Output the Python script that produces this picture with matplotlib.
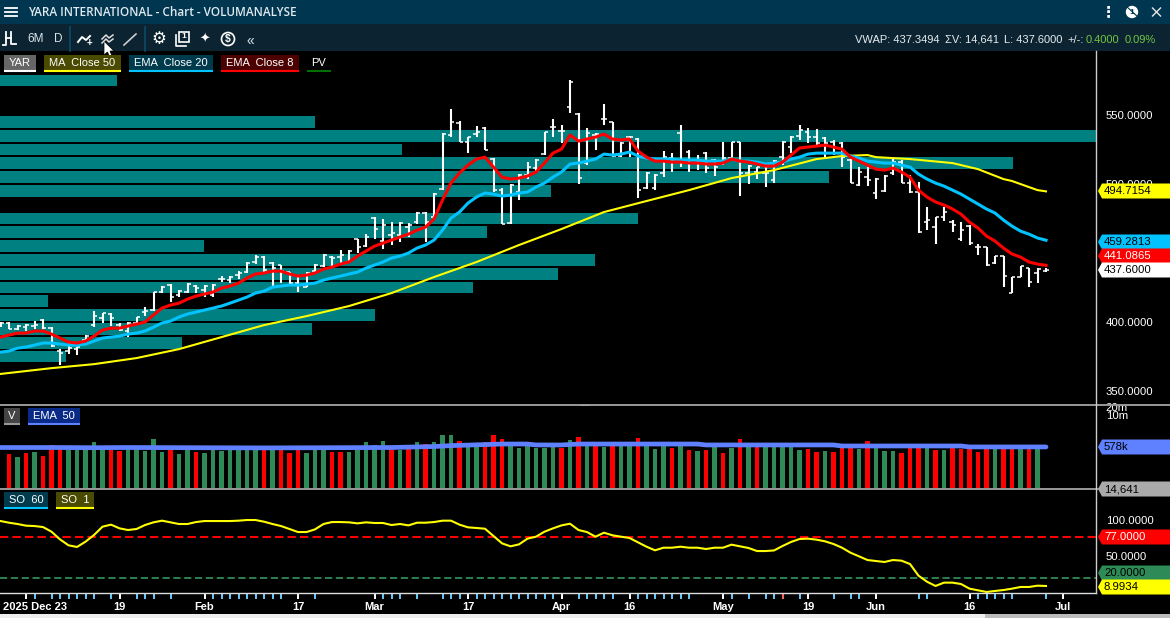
import numpy as np
import matplotlib
matplotlib.use("Agg")
import matplotlib.pyplot as plt
from matplotlib.patches import Polygon, Rectangle

plt.rcParams['font.family'] = ['Liberation Sans', 'DejaVu Sans']

# bar index -1 is the partly cut off bar at the left edge
highs = [400.0,400.0,397.8,398.5,400.7,402.1,396.3,380.4,384.8,381.9,390.6,408.0,406.5,406.5,399.3,400.0,403.6,410.8,421.7,426.1,427.5,
         423.2,428.2,426.8,426.8,427.5,433.3,433.3,436.9,443.5,448.5,447.8,443.5,441.3,436.2,434.0,436.2,442.0,449.3,447.8,452.2,
         452.2,460.1,463.7,476.1,474.6,472.4,472.4,471.7,479.7,479.7,493.5,537.0,554.3,545.6,534.0,542.0,541.3,518.8,497.1,500.0,
         507.2,515.9,518.1,537.7,547.1,542.7,575.3,551.4,540.6,537.0,558.0,544.9,530.4,534.8,533.3,508.7,507.2,523.9,522.4,542.7,
         524.6,521.0,523.2,518.1,530.4,530.4,530.4,513.7,512.3,512.3,517.4,531.1,534.8,542.7,540.5,539.8,534.0,531.9,530.4,518.1,
         512.3,512.3,504.3,506.5,518.1,517.4,506.5,501.4,483.3,476.0,483.3,473.9,472.4,470.3,456.5,454.3,447.8,447.8,432.6,440.5,
         439.1,439.1,439.1]
lows = [396.3,394.9,394.2,393.5,394.9,394.9,381.9,368.8,376.8,376.1,386.9,396.3,399.3,397.1,393.5,389.1,397.8,404.3,408.0,421.0,414.5,
        418.1,421.0,421.0,418.1,418.1,429.0,428.2,431.1,435.5,442.0,436.2,426.1,428.2,426.8,421.7,425.3,436.2,439.8,440.5,442.7,
        442.7,450.0,454.3,460.1,452.9,455.8,458.0,461.6,471.0,458.0,475.3,495.6,534.0,530.4,522.4,534.0,524.6,494.2,471.0,471.0,
        488.4,503.6,508.7,521.0,534.0,529.7,551.4,500.0,513.7,524.6,542.7,519.5,519.5,519.5,489.8,496.3,495.6,505.0,508.7,512.3,
        508.7,510.1,508.0,505.8,513.7,517.4,491.3,500.0,503.6,497.8,500.7,513.7,522.4,531.9,529.7,526.8,519.5,521.0,512.3,500.7,
        498.5,498.5,489.1,494.2,506.5,500.7,493.5,464.5,466.6,456.5,473.2,465.2,458.7,455.8,448.5,440.5,442.0,425.3,421.0,432.6,
        425.3,428.2,436.2]
opens = [399.3,399.3,394.9,396.4,397.1,401.4,395.6,379.0,379.0,380.4,386.9,397.8,402.9,405.8,397.8,393.5,399.3,407.2,408.7,421.7,426.8,
         419.5,421.7,426.1,423.2,419.5,431.1,430.4,434.0,436.2,443.5,447.1,442.7,441.3,436.2,428.2,425.3,436.9,440.5,447.1,447.1,
         443.5,460.1,455.0,475.3,458.7,463.0,463.0,468.8,472.4,479.0,476.1,496.3,535.5,544.2,530.4,536.2,540.5,518.1,495.6,471.7,
         494.2,506.5,511.6,521.7,541.3,538.4,555.8,550.7,515.2,535.5,547.1,544.9,520.3,534.0,532.6,497.1,497.1,508.0,518.8,537.0,
         523.2,515.2,522.4,517.4,515.2,518.8,530.4,508.0,508.7,508.0,502.9,519.5,526.8,534.8,537.7,534.0,533.3,530.4,529.7,517.4,
         499.2,505.0,493.5,494.9,508.0,515.9,500.7,494.2,472.4,468.8,476.1,472.4,460.1,469.5,454.3,454.3,442.7,447.8,421.0,432.6,
         439.1,435.5,436.9]
closes = [399.3,394.9,397.1,397.8,397.8,395.6,382.6,377.5,381.1,381.9,389.8,404.3,406.5,402.9,394.2,399.3,403.6,408.0,421.7,425.3,418.1,
          422.4,427.5,424.6,426.1,426.8,431.1,432.6,435.5,442.7,447.1,437.7,439.1,436.9,428.2,426.8,435.5,441.3,448.5,446.4,448.5,
          451.4,454.3,461.6,467.4,470.3,464.5,471.7,470.3,479.0,472.4,492.7,536.2,544.9,530.4,534.0,537.7,524.6,495.6,471.0,499.2,
          506.5,512.3,517.4,537.7,541.3,538.4,573.9,504.3,537.0,536.2,547.1,520.3,529.7,534.0,495.6,508.0,506.5,519.5,517.4,515.2,
          517.4,515.2,511.6,512.3,518.8,530.4,508.0,513.0,512.3,508.0,516.6,530.4,534.0,539.1,534.0,529.7,529.7,526.0,519.5,500.7,
          508.7,502.9,503.6,505.8,515.9,500.7,494.2,465.2,473.9,476.1,479.7,470.3,466.6,457.2,454.3,441.3,447.8,433.3,432.6,440.5,
          429.0,438.4,437.6]
ema8 = [389.1,390.6,392.0,392.0,393.5,393.5,391.3,388.4,385.5,384.8,386.2,389.8,394.2,395.6,395.6,397.1,398.5,400.0,405.1,410.1,412.3,
        413.7,416.6,418.8,420.3,421.7,424.6,426.1,428.2,431.9,434.8,435.5,436.9,436.9,434.8,433.3,434.0,435.5,438.4,439.8,442.0,
        443.5,447.8,451.4,455.0,457.2,459.4,461.6,463.7,466.6,468.8,474.6,488.4,500.7,508.0,513.7,518.1,519.5,512.3,505.0,503.6,
        504.3,505.8,508.7,515.2,522.4,525.3,535.5,531.1,532.6,534.0,536.2,532.6,531.9,532.6,523.9,519.5,516.6,516.6,515.9,515.9,
        515.2,515.2,514.5,514.5,515.2,518.1,516.6,515.9,514.5,513.0,513.0,515.9,521.0,526.1,526.8,527.5,528.2,526.8,525.3,519.5,
        516.6,513.7,510.8,510.1,511.6,508.7,505.0,495.6,490.6,487.0,484.8,481.9,478.2,472.4,468.1,462.3,458.7,453.6,449.3,447.1,
        443.5,442.0,441.1]
ema20 = [378.2,379.0,381.1,381.9,383.3,384.8,384.8,384.0,383.3,383.3,384.0,386.2,388.4,389.1,389.8,391.3,392.0,393.5,396.3,399.3,400.7,
         403.6,405.8,407.2,408.7,410.1,411.6,413.7,415.9,418.1,421.0,422.4,425.3,426.1,426.8,426.8,427.5,428.2,430.4,431.9,433.3,
         434.8,436.2,439.1,441.3,443.5,446.4,447.8,450.0,453.6,455.8,459.4,466.6,475.3,479.7,486.2,490.6,493.5,492.7,491.3,492.0,
         493.5,494.2,497.8,500.7,505.0,508.7,514.5,515.2,516.6,518.1,521.7,521.0,521.7,523.2,520.3,518.8,518.1,518.1,518.1,517.4,
         517.4,517.4,516.6,516.6,516.6,518.1,516.6,516.6,515.9,514.5,515.2,515.9,518.1,519.5,521.7,522.4,522.4,522.4,522.4,520.3,
         518.8,516.6,515.9,515.2,515.2,513.7,512.3,507.2,503.6,500.7,498.5,495.6,492.7,489.1,485.5,481.9,479.0,473.9,469.5,465.9,
         463.7,460.9,459.3]
ma50_idx = [-1,5,10,15,20,25,30,35,40,45,50,55,60,65,70,75,80,85,90,95,98,101,102,106,111,114,117,118,121,122]
ma50 = [362.4,366.6,369.5,373.9,380.4,389.1,397.8,404.3,411.6,421.0,432.6,443.5,455.8,467.4,479.7,487.7,495.6,504.3,510.1,518.1,
        520.3,521.0,519.5,518.1,515.2,510.8,503.6,502.2,495.6,494.7]

profile_prices = [575,545,535,525,515,505,495,475,465,455,445,435,425,415,405,395,385,375]
profile_vol = [117,315,1096,402,1013,829,551,638,487,204,595,558,473,48,375,312,182,66]

# volume in thousands, bar 0 onwards
volume = [310,236,335,370,258,690,630,440,440,630,900,480,440,400,480,480,400,1170,370,525,310,480,370,335,480,400,440,440,440,630,
          480,575,480,335,440,335,630,630,370,370,370,440,900,690,980,525,440,690,900,750,900,1680,1680,980,630,630,900,1680,1170,820,
          525,690,525,525,630,525,1070,1400,690,690,575,820,690,690,1285,690,480,690,525,690,440,400,440,690,335,525,1170,690,690,690,
          690,690,690,440,480,370,400,370,525,525,480,980,525,400,400,335,525,525,525,440,440,525,480,480,370,480,480,480,480,480,480,480,14.641]
down_days = [0,2,4,5,6,12,13,19,22,30,32,33,34,38,39,45,47,49,53,56,57,58,65,67,69,71,74,78,80,82,84,86,88,
             94,95,97,98,99,101,105,106,107,109,111,112,113,114,115,117,118,120]
vol_ema_idx = [-1,5,10,14,30,45,50,52,58,61,62,65,67,81,82,97,98,112,113,122]
vol_ema = [550,550,540,550,530,550,600,650,750,750,690,690,750,750,690,690,630,630,578,578]

so1 = [98.6,96.3,94.5,92.2,91.7,90.3,83.9,73.3,65.1,62.8,70.1,79.3,90.8,93.6,88.5,86.2,87.6,93.1,96.8,99.1,96.8,
       94.5,94.5,97.2,98.6,98.6,98.6,98.6,99.1,100,100,97.7,94.5,91.7,87.6,83.4,83.4,87.1,94.5,97.2,97.2,
       96.8,95.4,96.8,95.9,95.9,93.1,94.5,92.6,96.3,96.3,97.2,99.1,99.1,93.6,89.9,89.0,88.0,77.9,67.8,63.7,
       66.4,74.3,77.0,83.9,88.5,92.6,94.9,86.2,83.4,77.0,82.5,78.9,77.0,75.2,69.2,63.2,58.2,61.8,61.8,63.2,
       61.8,61.8,60.0,61.8,61.8,66.0,63.7,61.4,57.2,57.2,58.0,64.1,69.7,73.8,74.3,72.9,70.6,66.9,61.8,54.9,
       49.9,44.8,43.4,42.1,44.8,43.9,39.3,23.2,14.9,9.0,13.6,13.6,11.7,5.3,3.0,0.7,2.1,3.4,5.3,7.6,
       7.6,9.4,9.0]

date_labels = ["19","Feb","17","Mar","17","Apr","16","May","19","Jun","16","Jul"]
date_label_idx = [13,23,34,43,54,65,73,84,94,102,113,124]
major_ticks = [2,13,23,34,43,54,65,73,84,94,102,113,124]
minor_ticks = [3,5,6,7,8,9,10,12,15,16,17,19,24,25,26,27,28,29,30,31,32,36,44,45,46,48,51,52,53,55,56,57,58,59,60,61,62,63,64,
               67,68,69,70,71,74,75,76,77,78,79,80,85,87,89,90,93,97,99,100,107,108,114,115,116,117,118,122]
alert_ticks = [91]

W, H = 1170, 618
BG_HEAD = '#003650'
BG_TOOL = '#0c2431'
TEAL = '#008080'
RED = '#ff0000'
GREEN = '#2e8b57'
YELLOW = '#ffff00'
CYAN = '#00c3ff'
VBLUE = '#5f80ff'
GREY = '#999999'

fig = plt.figure(figsize=(W/100, H/100), dpi=100, facecolor='black')


def rect(x0, y0, x1, y1, z=2):
    return fig.add_axes([x0/W, 1-y1/H, (x1-x0)/W, (y1-y0)/H], zorder=z)


xlim = (-9/8.5, (1096-9)/8.5)
idx = np.arange(-1, 123)

# volume at price, sits behind the bars
ax_prof = rect(0, 51, 1096, 405, 1)
ax_prof.set_xlim(0, 1096)
ax_prof.set_ylim(339.9, 596.4)
ax_prof.barh(profile_prices, profile_vol, height=8.6, color=TEAL)
ax_prof.axis('off')

# price pane
ax = rect(0, 51, 1096, 405, 2)
ax.set_facecolor('none')
ax.set_xlim(xlim)
ax.set_ylim(339.9, 596.4)
ax.vlines(idx, lows, highs, color='white', lw=1.5, zorder=3)
ax.hlines(opens, idx-0.38, idx, color='white', lw=1.1, zorder=3)
ax.hlines(closes, idx, idx+0.38, color='white', lw=1.1, zorder=3)
ax.plot(ma50_idx, ma50, color=YELLOW, lw=1.5, zorder=4)
ax.plot(idx, ema20, color=CYAN, lw=2.2, zorder=5)
ax.plot(idx, ema8, color=RED, lw=2.2, zorder=6)
ax.set_xticks([])
ax.yaxis.tick_right()
ax.set_yticks([350, 400, 500, 550])
ax.set_yticklabels(['350.0000', '400.0000', '500.0000', '550.0000'])
ax.tick_params(axis='y', length=0, pad=7, labelsize=8.2, labelcolor='white')

# volume pane, log scale
ax_vol = rect(0, 405, 1096, 489, 2)
ax_vol.set_facecolor('black')
ax_vol.set_xlim(xlim)
ax_vol.set_yscale('log')
ax_vol.set_ylim(13550, 2.44e7)
vol_cols = [RED if i in down_days else GREEN for i in range(len(volume))]
ax_vol.bar(np.arange(len(volume)), np.array(volume)*1000, bottom=1, width=0.5, color=vol_cols)
ax_vol.plot(vol_ema_idx, np.array(vol_ema)*1000, color=VBLUE, lw=3.4, solid_capstyle='round')
ax_vol.set_xticks([])
ax_vol.yaxis.tick_right()
ax_vol.set_yticks([1e7, 2e7])
ax_vol.set_yticklabels(['10m', '20m'])
ax_vol.minorticks_off()
ax_vol.tick_params(axis='y', which='both', length=0, pad=7, labelsize=8.2, labelcolor='white')

# stochastic pane
ax_so = rect(0, 489, 1096, 593, 2)
ax_so.set_facecolor('black')
ax_so.set_xlim(xlim)
ax_so.set_ylim(-0.7, 142.8)
ax_so.axhline(77, color=RED, lw=1.5, dashes=(4, 2))
ax_so.axhline(20, color=GREEN, lw=1.3, dashes=(4, 2))
ax_so.plot(idx, so1, color=YELLOW, lw=1.5)
ax_so.set_xticks([])
ax_so.yaxis.tick_right()
ax_so.set_yticks([50, 100])
ax_so.set_yticklabels(['50.0000', '100.0000'])
ax_so.tick_params(axis='y', length=0, pad=7, labelsize=8.2, labelcolor='white')

# date axis
ax_date = rect(0, 593, 1096, 614, 2)
ax_date.set_facecolor('black')
ax_date.set_xlim(xlim)
ax_date.set_ylim(1, 0)
ax_date.vlines(minor_ticks, 0, 0.3, color='#66ccff', lw=1.4)
ax_date.vlines(major_ticks, 0, 0.3, color='white', lw=1.4)
ax_date.vlines(alert_ticks, 0, 0.3, color='#ff6666', lw=1.4)
for i, lab in zip(date_label_idx, date_labels):
    ax_date.text(i, 0.66, lab, color='white', fontsize=8, fontweight='bold', ha='center', va='center')
ax_date.text(-0.72, 0.66, '2025 Dec 23', color='white', fontsize=8, fontweight='bold', ha='left', va='center')
ax_date.set_xticks([])
ax_date.set_yticks([])

for a in (ax_prof, ax, ax_vol, ax_so, ax_date):
    for s in a.spines.values():
        s.set_visible(False)

# window chrome and tags, laid out in pixels
ov = fig.add_axes([0, 0, 1, 1], zorder=10)
ov.set_xlim(0, W)
ov.set_ylim(H, 0)
ov.axis('off')
ov.patch.set_alpha(0)
ov.add_patch(Rectangle((0, 0), W, 24, color=BG_HEAD, lw=0))
ov.add_patch(Rectangle((0, 24), W, 27, color=BG_TOOL, lw=0))
ov.add_patch(Rectangle((0, 614), W, 4, color='#eeeeee', lw=0))
ov.add_patch(Rectangle((985, 614), 185, 4, color='#bbbbbb', lw=0))
ov.plot([0, 1170], [405, 405], color=GREY, lw=1.4)
ov.plot([0, 1098], [489, 489], color=GREY, lw=1.4)
ov.plot([0, 1096], [593, 593], color='#dddddd', lw=1)
ov.plot([1096, 1096], [51, 593], color='#cccccc', lw=1)
ov.text(585, 405, '.....', color='#cccccc', fontsize=5, ha='center', va='center')

for y in (8, 12, 15.5):
    ov.plot([5, 17], [y, y], color='white', lw=1.3)
ov.text(28, 12, 'YARA INTERNATIONAL - Chart - VOLUMANALYSE', color='#dfe9ef', fontsize=8.5,
        family='Open Sans', fontweight='semibold', va='center')
ov.text(1108, 12, '⋮', color='white', fontsize=11, fontweight='bold', ha='center', va='center', family='DejaVu Sans')
ov.add_patch(plt.Circle((1132, 12), 5.5, color='white'))
ov.text(1132, 12, '1', color=BG_HEAD, fontsize=6, fontweight='bold', ha='center', va='center')
ov.plot([1126, 1139], [6, 18], color=BG_HEAD, lw=0.8)
ov.plot([1152.5, 1160.5], [8, 16], color='#e8e8e8', lw=1)
ov.plot([1152.5, 1160.5], [16, 8], color='#e8e8e8', lw=1)

# toolbar
ov.plot([6, 6, 3], [32, 45, 45], color='white', lw=1.3)
ov.plot([11, 11, 16], [32, 44, 44], color='white', lw=1.3)
ov.plot([6, 11], [38, 38], color='white', lw=1.3)
ov.text(36, 39.5, '6M', color='#d8e2e8', fontsize=8.5, ha='center', va='center')
ov.text(58, 39.5, 'D', color='#d8e2e8', fontsize=8.5, ha='center', va='center')
for x in (69.5, 144.5):
    ov.plot([x, x], [27, 51], color='#0d4a68', lw=1.2)
ov.plot([78, 82, 86, 90], [42, 37, 40, 36], color='white', lw=1.4)
ov.text(89, 43, '+', color='white', fontsize=7, fontweight='bold', ha='center', va='center')
ov.plot([102, 106, 109, 113], [39, 35, 38, 35], color='#dddddd', lw=1.1)
ov.plot([102, 106, 109, 113], [43, 39, 42, 39], color='#dddddd', lw=1.1)
ov.plot([124, 136], [45, 34], color='#cccccc', lw=1.2)
ov.text(159, 39, '⚙', color='white', fontsize=12, ha='center', va='center', family='DejaVu Sans')
ov.add_patch(Rectangle((179, 32), 10, 10, fc='none', ec='white', lw=1.2))
ov.plot([175.5, 175.5, 186], [35, 45.5, 45.5], color='white', lw=1.2)
ov.text(184, 37, '1', color='white', fontsize=6, fontweight='bold', ha='center', va='center')
ov.text(205, 39, '✦', color='white', fontsize=9, ha='center', va='center', family='DejaVu Sans')
ov.add_patch(plt.Circle((228, 39), 6.5, fc='none', ec='white', lw=1.2))
ov.text(228, 39, '$', color='white', fontsize=7.5, fontweight='bold', ha='center', va='center')
ov.text(250, 41, '«', color='#d8e2e8', fontsize=10, ha='center', va='center')
ov.add_patch(Polygon([(104, 41), (104, 55), (107.5, 52), (110, 58), (112.5, 57), (110, 51), (114, 51)],
                     fc='white', ec='black', lw=0.5))

# quote line
for x, txt, c in [(855, 'VWAP: 437.3494', '#e4ecf0'), (945, 'ΣV: 14,641', '#e4ecf0'), (1004, 'L: 437.6000', '#e4ecf0'),
                  (1067, '+/-:', '#e4ecf0'), (1086, '0.4000', '#72c442'), (1125, '0.09%', '#72c442')]:
    ov.text(x, 43, txt, color=c, fontsize=8, va='baseline')


def chip(x0, x1, y0, txt, bg, line):
    ov.add_patch(Rectangle((x0, y0), x1-x0, 15, color=bg, lw=0))
    ov.plot([x0, x1], [y0+15.5, y0+15.5], color=line, lw=1.5, solid_capstyle='butt')
    ov.text((x0+x1)/2, y0+8, txt, color='white', fontsize=8, ha='center', va='center')


chip(4, 36, 55, 'YAR', '#666666', 'white')
chip(44, 121, 55, 'MA  Close 50', '#4a4a00', YELLOW)
chip(129, 213, 55, 'EMA  Close 20', '#003a4d', CYAN)
chip(221, 299, 55, 'EMA  Close 8', '#4d0000', RED)
chip(307, 331, 55, 'PV', 'black', '#007000')
chip(4, 20, 408, 'V', '#444444', '#999999')
chip(28, 80, 408, 'EMA  50', '#0a2a88', VBLUE)
chip(4, 48, 492, 'SO  60', '#003a4d', CYAN)
chip(56, 94, 492, 'SO  1', '#4a4a00', YELLOW)


def tag(y, txt, bg, fg='black'):
    ov.add_patch(Polygon([(1098, y), (1102, y-7.5), (1170, y-7.5), (1170, y+7.5), (1102, y+7.5)], color=bg, lw=0))
    ov.text(1104, y+0.3, txt, color=fg, fontsize=8.2, va='center')


tag(191, '494.7154', YELLOW)
tag(242, '459.2813', CYAN)
tag(256, '441.0865', RED, 'white')
tag(270, '437.6000', 'white')
tag(447, '578k', VBLUE)
tag(489, '14,641', '#aaaaaa')
tag(537, '77.0000', RED, 'white')
tag(573, '20.0000', GREEN)
tag(587, '8.9934', YELLOW)

fig.savefig('out.png', dpi=100, facecolor='black')
